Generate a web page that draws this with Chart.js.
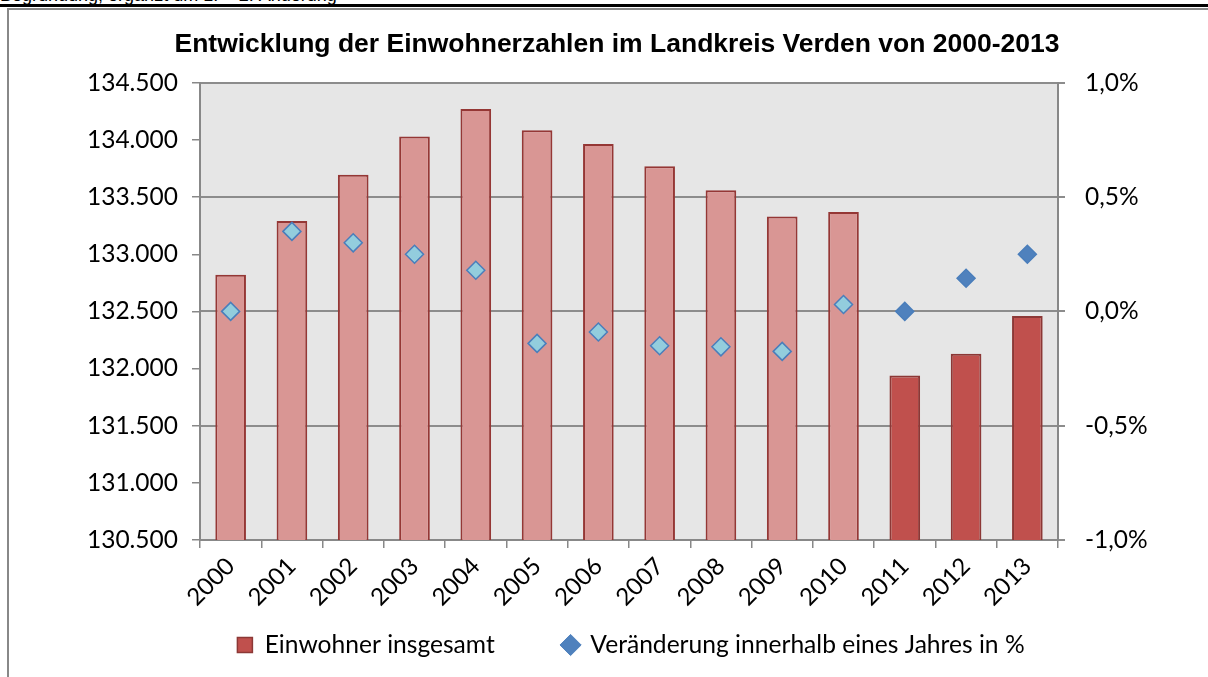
<!DOCTYPE html>
<html>
<head>
<meta charset="utf-8">
<script src="https://cdn.jsdelivr.net/npm/chart.js@4/dist/chart.umd.min.js"></script>
<style>
  html, body { margin: 0; padding: 0; background: #fff; overflow: hidden; }
  #page { position: relative; width: 1208px; height: 677px; }
  #doc-header { position: absolute; left: 0; top: -15px; font: 18px "Liberation Sans", Arial, sans-serif; color: #000; white-space: nowrap; }
  #doc-rule { position: absolute; left: 0; top: 4px; width: 1208px; height: 3px; background: #000; }
  #frame { position: absolute; left: 7px; top: 8px; width: 1220px; height: 700px; border: 2px solid #888; }
  #chartWrap { position: absolute; left: 0; top: 0; width: 1208px; height: 677px; }
</style>
</head>
<body>
<div id="page">
  <div id="doc-header">Begründung, ergänzt um 1. + 2. Änderung</div>
  <div id="doc-rule"></div>
  <div id="frame"></div>
  <div id="chartWrap"><canvas id="popChart" width="1208" height="677"></canvas></div>
</div>
<script>
// data
let years = ['2000','2001','2002','2003','2004','2005','2006','2007','2008','2009','2010','2011','2012','2013'];
let residents = [132820, 133290, 133695, 134030, 134270, 134085, 133965, 133770, 133560, 133330, 133370, 131940, 132130, 132460];
let changePct = [0.0, 0.35, 0.30, 0.25, 0.18, -0.14, -0.09, -0.15, -0.155, -0.175, 0.03, 0.0, 0.145, 0.25];
let leftTicks = [130500, 131000, 131500, 132000, 132500, 133000, 133500, 134000, 134500];
let rightTicks = [-1.0, -0.5, 0.0, 0.5, 1.0];

// first 11 years lighter, last 3 stronger
let barFill = years.map((y, i) => i < 11 ? '#D99694' : '#C0504D');
let barLine = years.map((y, i) => i < 11 ? '#953735' : '#8C3836');
let dotFill = years.map((y, i) => i < 11 ? '#93CDDD' : '#4F81BD');

function fmtThousands(v) {
    let s = String(Math.round(v));
    return s.replace(/\B(?=(\d{3})+(?!\d))/g, '.');
}

function fmtPct(v) {
    return v.toFixed(1).replace('.', ',') + '%';
}

let plotBackground = {
    id: 'plotBackground',
    beforeDraw(chart) {
        let a = chart.chartArea;
        let ctx = chart.ctx;
        ctx.save();
        ctx.fillStyle = '#E6E6E6';
        ctx.fillRect(a.left, a.top, a.right - a.left, a.bottom - a.top);
        ctx.restore();
    }
};

// the legend sits a bit right of the title centre in the original
let legendNudge = {
    id: 'legendNudge',
    afterLayout(chart) {
        if (chart.legend) {
            chart.legend.left += 14;
            chart.legend.right += 14;
        }
    }
};

let ctx = document.getElementById('popChart').getContext('2d');
let chart = new Chart(ctx, {
    type: 'bar',
    data: {
        labels: years,
        datasets: [{
            type: 'bar',
            label: 'Einwohner insgesamt',
            data: residents,
            yAxisID: 'y',
            backgroundColor: barFill,
            borderColor: barLine,
            borderWidth: 2,
            barPercentage: 0.5,
            categoryPercentage: 1.0,
            order: 1
        }, {
            type: 'line',
            label: 'Veränderung innerhalb eines Jahres in %',
            data: changePct,
            yAxisID: 'y1',
            showLine: false,
            pointStyle: 'rectRot',
            pointRadius: 9,
            pointHoverRadius: 9,
            pointBackgroundColor: dotFill,
            pointBorderColor: '#4A7EBB',
            pointBorderWidth: 1.5,
            backgroundColor: '#4F81BD',
            borderColor: '#4F81BD',
            order: 0
        }]
    },
    options: {
        responsive: false,
        animation: false,
        layout: {
            padding: { left: 26, right: 0, top: 0, bottom: 9.7 }
        },
        plugins: {
            title: {
                display: true,
                text: 'Entwicklung der Einwohnerzahlen im Landkreis Verden von 2000-2013',
                color: '#000',
                font: { family: '"Liberation Sans", Arial, sans-serif', size: 26.5, weight: 'bold', lineHeight: 1.2 },
                padding: { top: 29, bottom: 22 }
            },
            legend: {
                position: 'bottom',
                labels: {
                    color: '#000',
                    font: { family: 'Lato, sans-serif', size: 24.6 },
                    padding: 18,
                    boxWidth: 15,
                    boxHeight: 15,
                    usePointStyle: true,
                    generateLabels(c) {
                        return [{
                            text: 'Einwohner insgesamt\u00A0\u00A0\u00A0\u00A0\u00A0\u00A0\u00A0\u00A0',
                            fillStyle: '#C0504D',
                            strokeStyle: '#8C3836',
                            lineWidth: 1.5,
                            pointStyle: 'rect',
                            datasetIndex: 0
                        }, {
                            text: 'Veränderung innerhalb eines Jahres in %',
                            fillStyle: '#4F81BD',
                            strokeStyle: '#4F81BD',
                            lineWidth: 1,
                            pointStyle: 'rectRot',
                            datasetIndex: 1
                        }];
                    }
                }
            },
            tooltip: { enabled: false }
        },
        scales: {
            x: {
                offset: true,
                grid: {
                    offset: true,
                    drawOnChartArea: false,
                    color: '#888',
                    lineWidth: 1.5,
                    tickLength: 8
                },
                border: { color: '#888', width: 2 },
                ticks: {
                    color: '#000',
                    font: { family: 'Lato, sans-serif', size: 24 },
                    maxRotation: 45,
                    minRotation: 45,
                    padding: 4
                },
                afterFit(scale) { scale.height = 74.7; }
            },
            y: {
                position: 'left',
                min: 130500,
                max: 134500,
                afterBuildTicks(scale) { scale.ticks = leftTicks.map(v => ({ value: v })); },
                grid: {
                    drawOnChartArea: false,
                    color: '#888',
                    lineWidth: 1.5,
                    tickLength: 8
                },
                border: { color: '#888', width: 2 },
                ticks: {
                    color: '#000',
                    font: { family: 'Lato, sans-serif', size: 24.5 },
                    padding: 14,
                    callback: v => fmtThousands(v)
                },
                afterFit(scale) { scale.width = 174; }
            },
            y1: {
                position: 'right',
                min: -1,
                max: 1,
                afterBuildTicks(scale) { scale.ticks = rightTicks.map(v => ({ value: v })); },
                grid: {
                    drawOnChartArea: true,
                    color: '#8C8C8C',
                    lineWidth: 2,
                    tickLength: 7
                },
                border: { color: '#888', width: 2 },
                ticks: {
                    color: '#000',
                    font: { family: 'Lato, sans-serif', size: 24.5 },
                    padding: 20,
                    callback: v => fmtPct(v)
                },
                afterFit(scale) { scale.width = 150; }
            }
        }
    },
    plugins: [plotBackground, legendNudge]
});
</script>
</body>
</html>
